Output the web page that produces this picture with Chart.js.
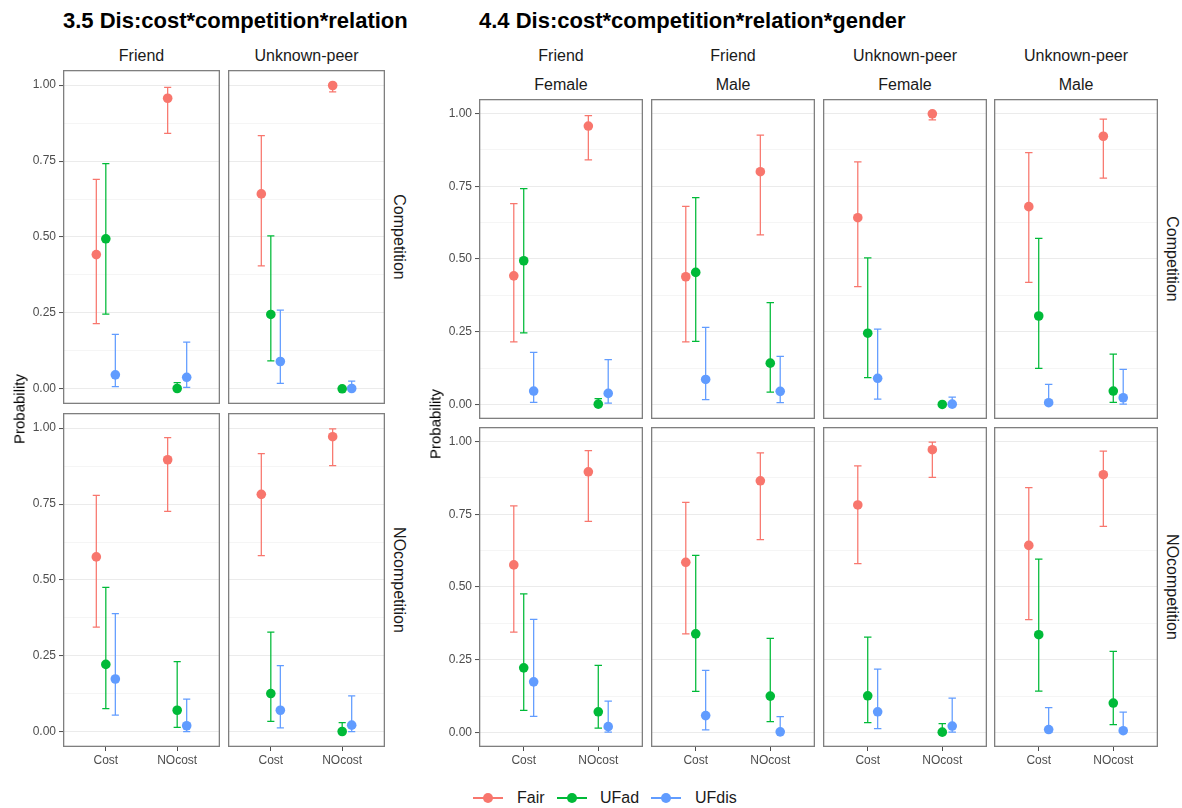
<!DOCTYPE html>
<html>
<head>
<meta charset="utf-8">
<script src="https://cdn.jsdelivr.net/npm/chart.js@4.4.1/dist/chart.umd.min.js"></script>
<style>
  html, body { margin: 0; padding: 0; background: #fff; }
  body { width: 1182px; height: 808px; position: relative; overflow: hidden;
         font-family: "Liberation Sans", Arial, sans-serif; }
  .txt { position: absolute; white-space: nowrap; line-height: 1; }
  canvas { position: absolute; }
  .key-line { position: absolute; height: 1.6px; }
  .key-dot { position: absolute; width: 10px; height: 10px; border-radius: 50%; }
</style>
</head>
<body>
<script>
// ---- factor levels and labels ----
const outcomes = ['Fair', 'UFad', 'UFdis'];
const outcomeColors = ['#F8766D', '#00BA38', '#619CFF'];
const costLevels = ['Cost', 'NOcost'];
const relationLevels = ['Friend', 'Unknown-peer'];
const competitionLevels = ['Competition', 'NOcompetition'];
const genderLevels = ['Female', 'Male'];
const yMajorTicks = [0, 0.25, 0.5, 0.75, 1];
const yMinorTicks = [0.125, 0.375, 0.625, 0.875];
const dodgeOffsets = [-0.1333, 0, 0.1333];

// ---- predicted probabilities: rows Fair, UFad, UFdis; columns Cost, NOcost ----
// 3.5  cost * competition * relation
const est35FriendComp   = [[0.442, 0.957], [0.494, 0.001], [0.046, 0.038]];
const lo35FriendComp    = [[0.215, 0.841], [0.246, 0.000], [0.007, 0.005]];
const hi35FriendComp    = [[0.690, 0.993], [0.742, 0.020], [0.179, 0.154]];

const est35PeerComp     = [[0.642, 0.999], [0.245, 0.000], [0.090, 0.001]];
const lo35PeerComp      = [[0.405, 0.978], [0.092, 0.000], [0.018, 0.000]];
const hi35PeerComp      = [[0.834, 1.000], [0.504, 0.002], [0.259, 0.025]];

const est35FriendNoComp = [[0.576, 0.896], [0.222, 0.071], [0.174, 0.020]];
const lo35FriendNoComp  = [[0.345, 0.726], [0.076, 0.015], [0.055, 0.001]];
const hi35FriendNoComp  = [[0.779, 0.969], [0.476, 0.231], [0.389, 0.108]];

const est35PeerNoComp   = [[0.782, 0.972], [0.126, 0.001], [0.071, 0.022]];
const lo35PeerNoComp    = [[0.580, 0.877], [0.034, 0.000], [0.013, 0.001]];
const hi35PeerNoComp    = [[0.916, 0.998], [0.328, 0.030], [0.218, 0.118]];

// 4.4  cost * competition * relation * gender
const est44FriendFemaleComp   = [[0.442, 0.957], [0.494, 0.001], [0.046, 0.038]];
const lo44FriendFemaleComp    = [[0.215, 0.841], [0.246, 0.000], [0.007, 0.005]];
const hi44FriendFemaleComp    = [[0.690, 0.993], [0.742, 0.020], [0.179, 0.154]];

const est44FriendMaleComp     = [[0.439, 0.800], [0.454, 0.142], [0.086, 0.045]];
const lo44FriendMaleComp      = [[0.215, 0.583], [0.217, 0.042], [0.017, 0.006]];
const hi44FriendMaleComp      = [[0.681, 0.926], [0.711, 0.350], [0.265, 0.165]];

const est44PeerFemaleComp     = [[0.642, 0.999], [0.245, 0.000], [0.090, 0.001]];
const lo44PeerFemaleComp      = [[0.405, 0.978], [0.092, 0.000], [0.018, 0.000]];
const hi44PeerFemaleComp      = [[0.834, 1.000], [0.504, 0.002], [0.259, 0.025]];

const est44PeerMaleComp       = [[0.680, 0.922], [0.304, 0.046], [0.006, 0.023]];
const lo44PeerMaleComp        = [[0.420, 0.778], [0.124, 0.007], [0.000, 0.001]];
const hi44PeerMaleComp        = [[0.866, 0.981], [0.571, 0.173], [0.069, 0.121]];

const est44FriendFemaleNoComp = [[0.576, 0.896], [0.222, 0.071], [0.174, 0.020]];
const lo44FriendFemaleNoComp  = [[0.345, 0.726], [0.076, 0.015], [0.055, 0.001]];
const hi44FriendFemaleNoComp  = [[0.779, 0.969], [0.476, 0.231], [0.389, 0.108]];

const est44FriendMaleNoComp   = [[0.585, 0.865], [0.339, 0.125], [0.058, 0.002]];
const lo44FriendMaleNoComp    = [[0.339, 0.663], [0.141, 0.037], [0.009, 0.000]];
const hi44FriendMaleNoComp    = [[0.791, 0.961], [0.609, 0.323], [0.213, 0.054]];

const est44PeerFemaleNoComp   = [[0.782, 0.972], [0.126, 0.001], [0.071, 0.022]];
const lo44PeerFemaleNoComp    = [[0.580, 0.877], [0.034, 0.000], [0.013, 0.001]];
const hi44PeerFemaleNoComp    = [[0.916, 0.998], [0.328, 0.030], [0.218, 0.118]];

const est44PeerMaleNoComp     = [[0.643, 0.886], [0.336, 0.101], [0.010, 0.006]];
const lo44PeerMaleNoComp      = [[0.388, 0.708], [0.142, 0.027], [0.000, 0.000]];
const hi44PeerMaleNoComp      = [[0.842, 0.967], [0.596, 0.279], [0.085, 0.070]];

// ---- drawing helpers ----
const FONT = '"Liberation Sans", Arial, sans-serif';
const AXIS_GREY = '#4D4D4D';
const BORDER_GREY = '#7F7F7F';

function addText(str, x, y, opts = {}) {
  const d = document.createElement('div');
  d.className = 'txt';
  d.textContent = str;
  d.style.left = x + 'px';
  d.style.top = y + 'px';
  d.style.fontSize = (opts.size || 16) + 'px';
  d.style.fontWeight = opts.bold ? 'bold' : 'normal';
  d.style.color = opts.color || '#1A1A1A';
  const anchor = opts.anchor || 'center';
  const tx = anchor === 'left' ? '0' : '-50%';
  d.style.transform = `translate(${tx}, -50%)` + (opts.rotate ? ` rotate(${opts.rotate}deg)` : '');
  document.body.appendChild(d);
  return d;
}

// vertical interval with end caps, drawn beneath the points
const errorBarPlugin = {
  id: 'errorBars',
  beforeDatasetsDraw(chart) {
    const { ctx, scales: { x, y } } = chart;
    chart.data.datasets.forEach(ds => {
      ctx.save();
      ctx.strokeStyle = ds.borderColor;
      ctx.lineWidth = 1.25;
      ds.data.forEach((pt, k) => {
        const px = x.getPixelForValue(pt.x);
        const capL = x.getPixelForValue(pt.x - 0.05);
        const capR = x.getPixelForValue(pt.x + 0.05);
        const yLo = y.getPixelForValue(ds.errLo[k]);
        const yHi = y.getPixelForValue(ds.errHi[k]);
        ctx.beginPath();
        ctx.moveTo(px, yLo); ctx.lineTo(px, yHi);
        ctx.moveTo(capL, yLo); ctx.lineTo(capR, yLo);
        ctx.moveTo(capL, yHi); ctx.lineTo(capR, yHi);
        ctx.stroke();
      });
      ctx.restore();
    });
  }
};

// full frame around each facet panel
const panelFramePlugin = {
  id: 'panelFrame',
  afterDraw(chart) {
    const { ctx, chartArea: a } = chart;
    ctx.save();
    ctx.strokeStyle = BORDER_GREY;
    ctx.lineWidth = 1.3;
    ctx.strokeRect(a.left + 0.65, a.top + 0.65, a.right - a.left - 1.3, a.bottom - a.top - 1.3);
    ctx.restore();
  }
};

function makePanel(p) {
  const L = p.showY ? 50 : 0;
  const B = p.showX ? 30 : 0;
  const W = p.w + L, H = p.h + B;
  const cv = document.createElement('canvas');
  cv.width = W; cv.height = H;
  cv.style.width = W + 'px'; cv.style.height = H + 'px';
  cv.style.left = (p.left - L) + 'px';
  cv.style.top = p.top + 'px';
  document.body.appendChild(cv);

  const datasets = outcomes.map((name, s) => ({
    label: name,
    data: costLevels.map((c, k) => ({ x: k + 1 + dodgeOffsets[s], y: p.est[s][k] })),
    errLo: p.lo[s],
    errHi: p.hi[s],
    backgroundColor: outcomeColors[s],
    borderColor: outcomeColors[s],
    pointRadius: 4.8,
    pointBorderWidth: 0,
    pointHoverRadius: 4.8,
    showLine: false,
    clip: false
  }));

  const allY = [...yMajorTicks, ...yMinorTicks].sort((a, b) => a - b);
  const isMajor = v => yMajorTicks.some(m => Math.abs(m - v) < 1e-9);

  new Chart(cv, {
    type: 'scatter',
    data: { datasets },
    plugins: [errorBarPlugin, panelFramePlugin],
    options: {
      responsive: false,
      animation: false,
      devicePixelRatio: 1,
      layout: { padding: 0, autoPadding: false },
      plugins: { legend: { display: false }, tooltip: { enabled: false } },
      events: [],
      scales: {
        x: {
          type: 'linear', min: 0.4, max: 2.6,
          afterBuildTicks: s => { s.ticks = costLevels.map((c, i) => ({ value: i + 1 })); },
          ticks: {
            display: p.showX, autoSkip: false, maxRotation: 0, padding: 2,
            callback: v => costLevels[Math.round(v) - 1],
            font: { family: FONT, size: 12 }, color: AXIS_GREY
          },
          grid: { drawOnChartArea: false, drawTicks: p.showX, tickLength: 4, tickColor: AXIS_GREY, tickWidth: 1 },
          border: { display: false },
          afterFit: s => { s.height = B; s.paddingLeft = 0; s.paddingRight = 0; }
        },
        y: {
          type: 'linear', min: -0.05, max: 1.05,
          afterBuildTicks: s => { s.ticks = allY.map(v => ({ value: v })); },
          ticks: {
            display: p.showY, autoSkip: false, padding: 3,
            callback: v => (isMajor(v) ? v.toFixed(2) : ''),
            font: { family: FONT, size: 12 }, color: AXIS_GREY
          },
          grid: {
            color: c => (isMajor(c.tick.value) ? '#EBEBEB' : '#F3F3F3'),
            lineWidth: c => (isMajor(c.tick.value) ? 1.1 : 0.8),
            drawTicks: p.showY, tickLength: 4, tickWidth: 1,
            tickColor: c => (isMajor(c.tick.value) ? AXIS_GREY : 'rgba(0,0,0,0)')
          },
          border: { display: false },
          afterFit: s => { s.width = L; s.paddingTop = 0; s.paddingBottom = 0; }
        }
      }
    }
  });
}

// ---- figure 3.5: relation (columns) x competition (rows) ----
const fig35Lefts = [63, 228], fig35Tops = [70, 413], fig35W = 157, fig35H = 334;
const fig35Data = [
  [[est35FriendComp, lo35FriendComp, hi35FriendComp], [est35PeerComp, lo35PeerComp, hi35PeerComp]],
  [[est35FriendNoComp, lo35FriendNoComp, hi35FriendNoComp], [est35PeerNoComp, lo35PeerNoComp, hi35PeerNoComp]]
];
fig35Tops.forEach((top, r) => {
  fig35Lefts.forEach((left, c) => {
    const [est, lo, hi] = fig35Data[r][c];
    makePanel({ left, top, w: fig35W, h: fig35H, showY: c === 0, showX: r === 1, est, lo, hi });
  });
});
addText('3.5 Dis:cost*competition*relation', 63, 21, { size: 22, bold: true, color: '#000', anchor: 'left' });
relationLevels.forEach((rel, c) => addText(rel, fig35Lefts[c] + fig35W / 2, 56, { size: 16 }));
competitionLevels.forEach((comp, r) => addText(comp, 398.5, fig35Tops[r] + fig35H / 2, { size: 16, rotate: 90 }));
addText('Probability', 19, 409, { size: 15, color: '#000', rotate: -90 });

// ---- figure 4.4: relation x gender (columns) x competition (rows) ----
const fig44Lefts = [479, 651, 823, 994], fig44Tops = [99, 427], fig44W = 164, fig44H = 320;
const fig44Cols = [
  { rel: relationLevels[0], gen: genderLevels[0] },
  { rel: relationLevels[0], gen: genderLevels[1] },
  { rel: relationLevels[1], gen: genderLevels[0] },
  { rel: relationLevels[1], gen: genderLevels[1] }
];
const fig44Data = [
  [
    [est44FriendFemaleComp, lo44FriendFemaleComp, hi44FriendFemaleComp],
    [est44FriendMaleComp, lo44FriendMaleComp, hi44FriendMaleComp],
    [est44PeerFemaleComp, lo44PeerFemaleComp, hi44PeerFemaleComp],
    [est44PeerMaleComp, lo44PeerMaleComp, hi44PeerMaleComp]
  ],
  [
    [est44FriendFemaleNoComp, lo44FriendFemaleNoComp, hi44FriendFemaleNoComp],
    [est44FriendMaleNoComp, lo44FriendMaleNoComp, hi44FriendMaleNoComp],
    [est44PeerFemaleNoComp, lo44PeerFemaleNoComp, hi44PeerFemaleNoComp],
    [est44PeerMaleNoComp, lo44PeerMaleNoComp, hi44PeerMaleNoComp]
  ]
];
fig44Tops.forEach((top, r) => {
  fig44Lefts.forEach((left, c) => {
    const [est, lo, hi] = fig44Data[r][c];
    makePanel({ left, top, w: fig44W, h: fig44H, showY: c === 0, showX: r === 1, est, lo, hi });
  });
});
addText('4.4 Dis:cost*competition*relation*gender', 479, 21, { size: 22, bold: true, color: '#000', anchor: 'left' });
fig44Cols.forEach((col, c) => {
  addText(col.rel, fig44Lefts[c] + fig44W / 2, 56, { size: 16 });
  addText(col.gen, fig44Lefts[c] + fig44W / 2, 84.5, { size: 16 });
});
competitionLevels.forEach((comp, r) => addText(comp, 1171.5, fig44Tops[r] + fig44H / 2, { size: 16, rotate: 90 }));
addText('Probability', 435, 424, { size: 15, color: '#000', rotate: -90 });

// ---- shared legend ----
const legendKeyLefts = [473, 557, 651];
const legendTextLefts = [517, 600, 695];
const legendY = 798;
outcomes.forEach((name, s) => {
  const line = document.createElement('div');
  line.className = 'key-line';
  line.style.left = legendKeyLefts[s] + 'px';
  line.style.top = (legendY - 0.8) + 'px';
  line.style.width = '30px';
  line.style.background = outcomeColors[s];
  document.body.appendChild(line);
  const dot = document.createElement('div');
  dot.className = 'key-dot';
  dot.style.left = (legendKeyLefts[s] + 10) + 'px';
  dot.style.top = (legendY - 5) + 'px';
  dot.style.background = outcomeColors[s];
  document.body.appendChild(dot);
  addText(name, legendTextLefts[s], legendY, { size: 16, anchor: 'left' });
});
</script>
</body>
</html>
